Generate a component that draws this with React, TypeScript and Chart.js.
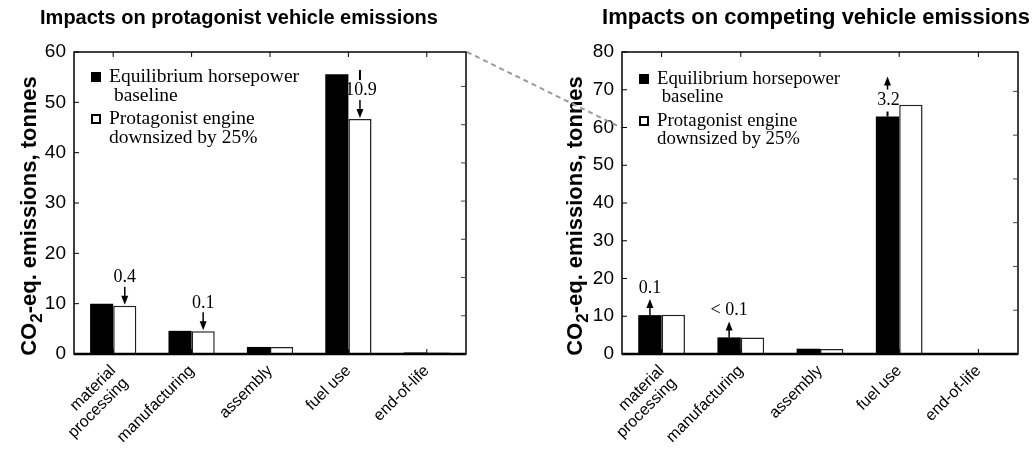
import React, { useEffect, useRef } from 'react';
import { Chart, registerables } from 'chart.js';

Chart.register(...registerables);

// ---------- data ----------
const categories: (string | string[])[] = [['material', 'processing'], 'manufacturing', 'assembly', 'fuel use', 'end-of-life'];
const seriesNames = ['Equilibrium horsepower baseline', 'Protagonist engine downsized by 25%'];
const legendLines: string[][] = [['Equilibrium horsepower', ' baseline'], ['Protagonist engine', 'downsized by 25%']];

const leftTitle = 'Impacts on protagonist vehicle emissions';
const rightTitle = 'Impacts on competing vehicle emissions';
const yTitleParts = ['CO', '2', '-eq. emissions, tonnes'];

const leftBaseline = [10.0, 4.6, 1.4, 55.6, 0.3];
const leftDownsized = [9.6, 4.5, 1.4, 46.7, 0.3];
const rightBaseline = [10.3, 4.4, 1.4, 62.9, 0.25];
const rightDownsized = [10.4, 4.4, 1.3, 66.0, 0.25];

const leftYMax = 60;
const rightYMax = 80;
const yStep = 10;
// secondary (unlabelled) tick scales on the right-hand border
const leftSecondaryMax = 79;
const rightSecondaryMax = 69;
// right axis level the dashed connector points to
const connectorLevel = 60;

type Ann = { cat: number; ds: number; text: string; kind: 'down' | 'up' | 'downSplit' | 'upSplit' };
const leftAnnotations: Ann[] = [
  { cat: 0, ds: 1, text: '0.4', kind: 'down' },
  { cat: 1, ds: 1, text: '0.1', kind: 'down' },
  { cat: 3, ds: 1, text: '10.9', kind: 'downSplit' },
];
const rightAnnotations: Ann[] = [
  { cat: 0, ds: 0, text: '0.1', kind: 'up' },
  { cat: 1, ds: 0, text: '< 0.1', kind: 'up' },
  { cat: 3, ds: 0, text: '3.2', kind: 'upSplit' },
];

// ---------- styling ----------
const SANS = '"Liberation Sans", Arial, Helvetica, sans-serif';
const SERIF = '"Liberation Serif", "Times New Roman", serif';
const CANVAS_W = 517;
const CANVAS_H = 458;
const RIGHT_OFFSET = 517;

function arrowHead(ctx: CanvasRenderingContext2D, x: number, tipY: number, dir: number) {
  ctx.beginPath();
  ctx.moveTo(x, tipY);
  ctx.lineTo(x - 3.5, tipY - dir * 9);
  ctx.lineTo(x + 3.5, tipY - dir * 9);
  ctx.closePath();
  ctx.fill();
}

function vline(ctx: CanvasRenderingContext2D, x: number, y1: number, y2: number) {
  ctx.beginPath();
  ctx.moveTo(x, y1);
  ctx.lineTo(x, y2);
  ctx.stroke();
}

function makePlugin(p: {
  title: string;
  titleX: number;
  titleSize: number;
  yTitleX: number;
  yTitleY: number;
  anns: Ann[];
  legendDY: number;
  legendSize: number;
}) {
  return {
    id: 'decor',
    afterDatasetsDraw(chart: any) {
      const ctx: CanvasRenderingContext2D = chart.ctx;
      const a = chart.chartArea;
      const xs = chart.scales.x;
      const ys = chart.scales.y;
      const y2 = chart.scales.y2;
      ctx.save();

      // box
      ctx.strokeStyle = '#000';
      ctx.lineWidth = 1.5;
      ctx.strokeRect(a.left, a.top, a.right - a.left, a.bottom - a.top);
      ctx.lineWidth = 2.5;
      ctx.beginPath();
      ctx.moveTo(a.left, a.bottom);
      ctx.lineTo(a.right, a.bottom);
      ctx.stroke();

      // inward ticks
      ctx.lineWidth = 1;
      ctx.strokeStyle = '#000';
      ys.ticks.forEach((t: any) => {
        const y = ys.getPixelForValue(t.value);
        ctx.beginPath();
        ctx.moveTo(a.left, y);
        ctx.lineTo(a.left + 5, y);
        ctx.stroke();
      });
      ctx.strokeStyle = '#444';
      y2.ticks.forEach((t: any) => {
        if (t.value <= y2.min || t.value >= y2.max) return;
        const y = y2.getPixelForValue(t.value);
        ctx.beginPath();
        ctx.moveTo(a.right, y);
        ctx.lineTo(a.right - 5, y);
        ctx.stroke();
      });
      ctx.strokeStyle = '#000';
      for (let i = 0; i < categories.length; i++) {
        const x = xs.getPixelForTick(i);
        vline(ctx, x, a.top, a.top + 5);
        vline(ctx, x, a.bottom, a.bottom - 5);
      }

      // title
      ctx.fillStyle = '#000';
      ctx.font = `bold ${p.titleSize}px ${SANS}`;
      ctx.textAlign = 'center';
      ctx.textBaseline = 'middle';
      ctx.fillText(p.title, p.titleX, 18);

      // y title with subscript
      ctx.save();
      ctx.translate(p.yTitleX, p.yTitleY);
      ctx.rotate(-Math.PI / 2);
      const big = `bold 22px ${SANS}`;
      const small = `bold 17px ${SANS}`;
      ctx.font = big;
      const w0 = ctx.measureText(yTitleParts[0]).width;
      const w2 = ctx.measureText(yTitleParts[2]).width;
      ctx.font = small;
      const w1 = ctx.measureText(yTitleParts[1]).width;
      let x0 = -(w0 + w1 + w2) / 2;
      ctx.textAlign = 'left';
      ctx.textBaseline = 'middle';
      ctx.font = big;
      ctx.fillText(yTitleParts[0], x0, 0);
      x0 += w0;
      ctx.font = small;
      ctx.fillText(yTitleParts[1], x0, 7);
      x0 += w1;
      ctx.font = big;
      ctx.fillText(yTitleParts[2], x0, 0);
      ctx.restore();

      // legend
      const lx = a.left + 17;
      const entryY = [a.top + 25 + p.legendDY, a.top + 67 + p.legendDY];
      ctx.font = `${p.legendSize}px ${SERIF}`;
      ctx.textAlign = 'left';
      ctx.textBaseline = 'middle';
      legendLines.forEach((lines, i) => {
        const cy = entryY[i];
        if (i === 0) {
          ctx.fillStyle = '#000';
          ctx.fillRect(lx, cy - 5, 10, 10);
        } else {
          ctx.fillStyle = '#fff';
          ctx.fillRect(lx, cy - 5, 10, 10);
          ctx.strokeStyle = '#000';
          ctx.lineWidth = 2;
          ctx.strokeRect(lx + 1, cy - 4, 8, 8);
        }
        ctx.fillStyle = '#000';
        lines.forEach((ln, j) => ctx.fillText(ln, lx + 18, cy + j * 18.5));
      });

      // annotations
      ctx.font = `18px ${SERIF}`;
      ctx.textAlign = 'center';
      ctx.textBaseline = 'middle';
      ctx.strokeStyle = '#000';
      ctx.fillStyle = '#000';
      ctx.lineWidth = 1.5;
      p.anns.forEach((an) => {
        const el = chart.getDatasetMeta(an.ds).data[an.cat];
        const x = el.x;
        const top = el.y;
        if (an.kind === 'down') {
          ctx.fillText(an.text, x, top - 28);
          vline(ctx, x, top - 19, top - 8);
          arrowHead(ctx, x, top - 1, 1);
        } else if (an.kind === 'up') {
          ctx.fillText(an.text, x, top - 27);
          vline(ctx, x, top, top - 8);
          arrowHead(ctx, x, top - 16, -1);
        } else if (an.kind === 'downSplit') {
          ctx.lineWidth = 2;
          vline(ctx, x, top - 49, top - 39);
          ctx.lineWidth = 1.5;
          ctx.fillText(an.text, x + 1, top - 29);
          vline(ctx, x, top - 19, top - 8);
          arrowHead(ctx, x, top - 1, 1);
        } else {
          ctx.lineWidth = 2;
          vline(ctx, x, top, top - 5);
          ctx.lineWidth = 1.5;
          ctx.fillText(an.text, x + 1, top - 16);
          vline(ctx, x, top - 27, top - 33);
          arrowHead(ctx, x, top - 40, -1);
        }
      });

      ctx.restore();
    },
  };
}

function buildConfig(p: {
  base: number[];
  down: number[];
  yMax: number;
  y2Max: number;
  yWidth: number;
  padRight: number;
  xHeight: number;
  plugin: any;
}): any {
  return {
    type: 'bar',
    data: {
      labels: categories,
      datasets: [
        {
          label: seriesNames[0],
          data: p.base,
          backgroundColor: '#000',
          borderColor: '#000',
          borderWidth: 0,
        },
        {
          label: seriesNames[1],
          data: p.down,
          backgroundColor: '#fff',
          borderColor: '#222',
          borderWidth: 1.5,
          borderSkipped: 'bottom',
        },
      ],
    },
    options: {
      animation: false,
      responsive: false,
      maintainAspectRatio: false,
      layout: { padding: { top: 52, right: p.padRight, left: 0, bottom: 0 } },
      plugins: {
        legend: { display: false },
        title: { display: false },
        tooltip: { enabled: false },
      },
      datasets: { bar: { categoryPercentage: 0.59, barPercentage: 1 } },
      scales: {
        x: {
          type: 'category',
          offset: true,
          grid: { display: false, drawTicks: false },
          border: { display: false },
          ticks: {
            minRotation: 45,
            maxRotation: 45,
            autoSkip: false,
            padding: 8,
            color: '#000',
            font: { family: SANS, size: 16, lineHeight: 1.1 },
          },
          afterFit: (s: any) => {
            s.height = p.xHeight;
          },
        },
        y: {
          min: 0,
          max: p.yMax,
          ticks: { stepSize: yStep, color: '#000', padding: 8, font: { family: SANS, size: 19 } },
          grid: { display: false, drawTicks: false },
          border: { display: false },
          afterFit: (s: any) => {
            s.width = p.yWidth;
          },
        },
        y2: {
          display: false,
          position: 'right',
          min: 0,
          max: p.y2Max,
          ticks: { stepSize: yStep },
          grid: { display: false },
        },
      },
    },
    plugins: [p.plugin],
  };
}

export default function App() {
  const leftRef = useRef<HTMLCanvasElement>(null);
  const rightRef = useRef<HTMLCanvasElement>(null);
  const overlayRef = useRef<HTMLCanvasElement>(null);

  useEffect(() => {
    const left = new Chart(
      leftRef.current!,
      buildConfig({
        base: leftBaseline,
        down: leftDownsized,
        yMax: leftYMax,
        y2Max: leftSecondaryMax,
        yWidth: 74,
        padRight: CANVAS_W - 466,
        xHeight: CANVAS_H - 354,
        plugin: makePlugin({
          title: leftTitle,
          titleX: 239,
          titleSize: 20,
          yTitleX: 30,
          yTitleY: 216,
          anns: leftAnnotations,
          legendDY: 0,
          legendSize: 19.5,
        }),
      })
    );
    const right = new Chart(
      rightRef.current!,
      buildConfig({
        base: rightBaseline,
        down: rightDownsized,
        yMax: rightYMax,
        y2Max: rightSecondaryMax,
        yWidth: 622 - RIGHT_OFFSET,
        padRight: CANVAS_W - (1018 - RIGHT_OFFSET),
        xHeight: CANVAS_H - 354,
        plugin: makePlugin({
          title: rightTitle,
          titleX: 816 - RIGHT_OFFSET,
          titleSize: 22,
          yTitleX: 576 - RIGHT_OFFSET,
          yTitleY: 216,
          anns: rightAnnotations,
          legendDY: 2,
          legendSize: 18.8,
        }),
      })
    );

    const oc = overlayRef.current!;
    const octx = oc.getContext('2d')!;
    octx.clearRect(0, 0, oc.width, oc.height);
    const x1 = left.chartArea.right + 1;
    const y1 = left.chartArea.top;
    const x2 = RIGHT_OFFSET + right.chartArea.left - 1;
    const y2 = right.scales.y.getPixelForValue(connectorLevel);
    octx.strokeStyle = '#9a9a9a';
    octx.lineWidth = 2;
    octx.setLineDash([5, 4]);
    octx.beginPath();
    octx.moveTo(x1, y1);
    octx.lineTo(x2, y2);
    octx.stroke();

    return () => {
      left.destroy();
      right.destroy();
    };
  }, []);

  const cs: React.CSSProperties = { position: 'absolute', top: 0 };
  return (
    <div style={{ position: 'absolute', left: 0, top: 0, width: 1034, height: 458, background: '#fff', overflow: 'hidden' }}>
      <canvas ref={leftRef} width={CANVAS_W} height={CANVAS_H} style={{ ...cs, left: 0, width: CANVAS_W, height: CANVAS_H }} />
      <canvas ref={rightRef} width={CANVAS_W} height={CANVAS_H} style={{ ...cs, left: RIGHT_OFFSET, width: CANVAS_W, height: CANVAS_H }} />
      <canvas ref={overlayRef} width={1034} height={458} style={{ ...cs, left: 0, width: 1034, height: 458, pointerEvents: 'none' }} />
    </div>
  );
}
